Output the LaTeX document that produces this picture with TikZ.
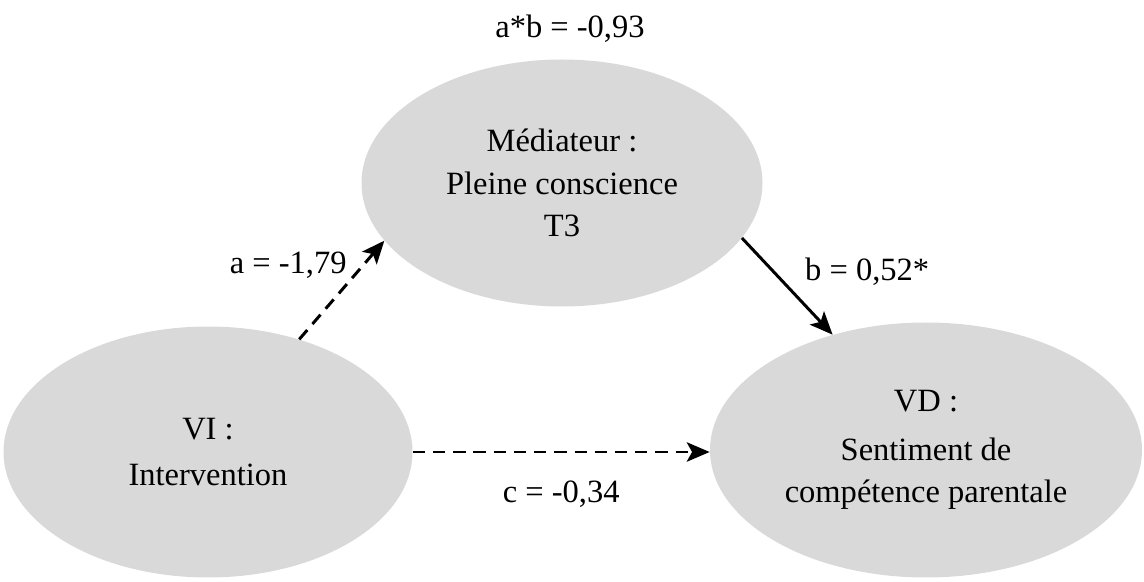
\documentclass[tikz,border=0pt]{standalone}
\usepackage{fontspec}
\setmainfont{Liberation Serif}
\usetikzlibrary{shapes.geometric, arrows.meta, positioning}

\begin{document}
\begin{tikzpicture}[
			var/.style={ellipse, fill=gray!30, inner sep=0pt, align=center, font=\fontsize{18.5}{24}\selectfont},
			coef/.style={inner sep=0pt, font=\fontsize{18.5}{22}\selectfont},
			arrow/.style={-{Stealth[length=13pt, width=11pt, inset=3pt]}, line width=1.7pt},
			nonsig/.style={arrow, dash pattern=on 7pt off 4.5pt}
			]
			
			\useasboundingbox (0,0) rectangle (22.88,-11.64);
			
			% Médiateur
			\node[var, minimum width=8.02cm, minimum height=4.94cm] (med) at (11.24,-3.66) {Médiateur :\\ Pleine conscience\\ T3};
			\node[coef, above=0.32cm of med, xshift=0.16cm] (ab) {a*b = -0,93};
			
			% Variable indépendante
			\node[var, minimum width=8.18cm, minimum height=5.02cm] (vi) at (4.16,-9.04) {VI :\\[2pt] Intervention};
			
			% Variable dépendante
			\node[var, minimum width=8.64cm, minimum height=5.1cm] (vd) at (18.52,-9.0) {VD :\\[4pt] Sentiment de\\ compétence parentale};
			
			% Chemins
			\draw[nonsig] (vi.51) -- node[coef, pos=0.75, left=0.3cm] (a) {a = -1,79} (med.198);
			\draw[arrow] (med.343) -- node[coef, pos=0.35, right=0.6cm] (b) {b = 0,52*} (vd.129);
			\draw[nonsig] (vi.east) -- node[coef, below=0.55cm] (c) {c = -0,34} (vd.west |- vi.east);
			
		\end{tikzpicture}
\end{document}
